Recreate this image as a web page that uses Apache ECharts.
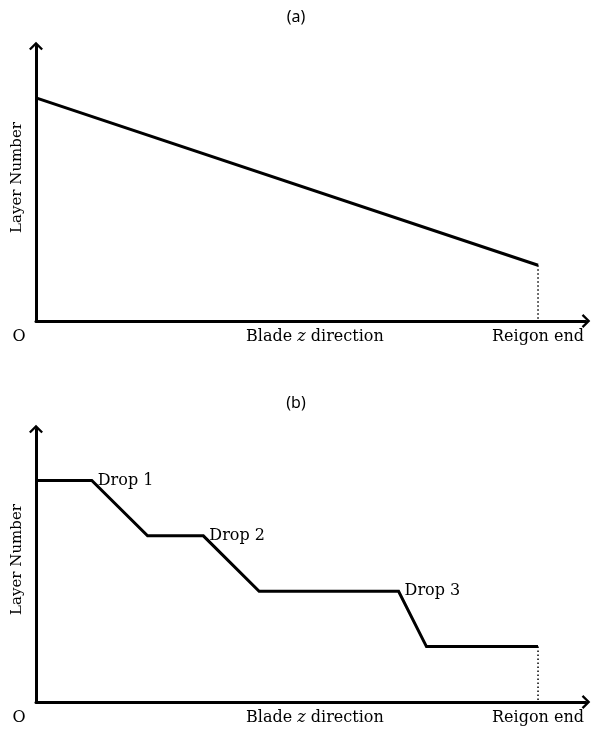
<!DOCTYPE html>
<html>
<head>
<meta charset="utf-8">
<script src="https://cdn.jsdelivr.net/npm/echarts@6/dist/echarts.min.js"></script>
<style>
html,body{margin:0;padding:0;background:#fff;}
#chart{width:592px;height:729px;}
</style>
</head>
<body>
<div id="chart"></div>
<script>
// ---- data ----
const panelTitles = ['(a)', '(b)'];
const yAxisName = 'Layer Number';
const xTickValues = [0, 5, 9];
const xTickLabels = ['{o|O}', 'Blade {it|z} direction', 'Reigon end'];
const xExtentMax = 9.86;
const yExtentMax = 4.93;

const seriesAX = [0, 9];
const seriesAY = [4, 1];

const seriesBX = [0, 1, 2, 3, 4, 6.5, 7, 9];
const seriesBY = [4, 4, 3, 3, 2, 2, 1, 1];
const seriesBLabels = ['', 'Drop 1', '', 'Drop 2', '', 'Drop 3', '', ''];

const regionEndX = 9;
const regionEndYA = [1, 0];
const regionEndYB = [1, 0];

// ---- build ----
const serif = '"DejaVu Serif", "Liberation Serif", serif';
const arrowPath = 'path://M7 0 L14 7 L12.3 8.6 L7 3.2 L1.7 8.6 L0 7 Z';

function xAxisCfg(gi) {
  return {
    gridIndex: gi, type: 'value', min: 0, max: xExtentMax, interval: 1,
    axisLine: { show: true, lineStyle: { color: '#000', width: 3 },
      symbol: ['none', arrowPath], symbolSize: [14, 9] },
    axisTick: { show: false }, splitLine: { show: false },
    axisLabel: {
      show: true, margin: 8, color: '#000', fontFamily: serif, fontSize: 16,
      showMinLabel: true, showMaxLabel: false,
      formatter: function (v) {
        const i = xTickValues.findIndex(t => Math.abs(t - v) < 1e-6);
        return i >= 0 ? xTickLabels[i] : '';
      },
      rich: {
        o: { fontFamily: serif, fontSize: 16, color: '#000', padding: [0, 34, 0, 0] },
        it: { fontFamily: serif, fontSize: 16, fontStyle: 'italic', color: '#000' }
      }
    }
  };
}
function yAxisCfg(gi) {
  return {
    gridIndex: gi, type: 'value', min: 0, max: yExtentMax,
    name: yAxisName, nameLocation: 'middle', nameRotate: 90, nameGap: 11,
    nameTextStyle: { color: '#000', fontFamily: serif, fontSize: 15, padding: [0, 0, 0, 12] },
    axisLine: { show: true, lineStyle: { color: '#000', width: 3 },
      symbol: ['none', arrowPath], symbolSize: [14, 9] },
    axisTick: { show: false }, splitLine: { show: false }, axisLabel: { show: false }
  };
}
function zip(xs, ys) { return xs.map((x, i) => [x, ys[i]]); }

const dataB = seriesBX.map((x, i) => {
  const item = { value: [x, seriesBY[i]] };
  if (seriesBLabels[i]) {
    item.label = { show: true, position: 'right', distance: 6, formatter: seriesBLabels[i],
      color: '#000', fontFamily: serif, fontSize: 16 };
  }
  return item;
});

const lineStyle = { color: '#000', width: 3, join: 'miter' };
const dotStyle = { color: '#000', width: 1.5, type: [1.5, 2.5] };

const option = {
  backgroundColor: '#fff',
  animation: false,
  title: [
    { text: panelTitles[0], left: 'center', top: 4,
      textStyle: { fontFamily: '"Noto Sans", sans-serif', fontWeight: 'normal', fontSize: 16, color: '#000' } },
    { text: panelTitles[1], left: 'center', top: 390,
      textStyle: { fontFamily: '"Noto Sans", sans-serif', fontWeight: 'normal', fontSize: 16, color: '#000' } }
  ],
  grid: [
    { left: 36, top: 46, width: 550, height: 275 },
    { left: 36, top: 429, width: 550, height: 273 }
  ],
  xAxis: [xAxisCfg(0), xAxisCfg(1)],
  yAxis: [yAxisCfg(0), yAxisCfg(1)],
  series: [
    { type: 'line', xAxisIndex: 0, yAxisIndex: 0, data: zip(seriesAX, seriesAY),
      symbol: 'none', lineStyle: lineStyle, z: 5 },
    { type: 'line', xAxisIndex: 0, yAxisIndex: 0,
      data: regionEndYA.map(y => [regionEndX, y]), symbol: 'none', lineStyle: dotStyle, z: 4 },
    { type: 'line', xAxisIndex: 1, yAxisIndex: 1, data: dataB,
      symbol: 'circle', symbolSize: 0.01, showSymbol: true,
      itemStyle: { color: '#000' }, lineStyle: lineStyle, z: 5 },
    { type: 'line', xAxisIndex: 1, yAxisIndex: 1,
      data: regionEndYB.map(y => [regionEndX, y]), symbol: 'none', lineStyle: dotStyle, z: 4 }
  ]
};

const chart = echarts.init(document.getElementById('chart'), null, { renderer: 'canvas' });
chart.setOption(option);
</script>
</body>
</html>
